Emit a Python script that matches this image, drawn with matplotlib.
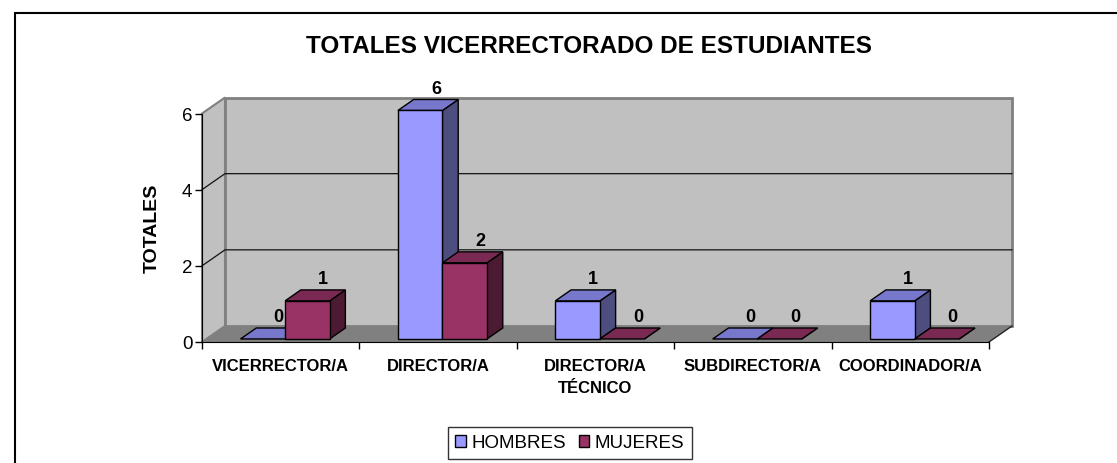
import matplotlib
matplotlib.use("Agg")
import matplotlib.pyplot as plt
from matplotlib.patches import Polygon, Patch, Rectangle

plt.rcParams["font.family"] = ["Liberation Sans", "DejaVu Sans"]

categorias = ["VICERRECTOR/A", "DIRECTOR/A", "DIRECTOR/A\nTÉCNICO",
              "SUBDIRECTOR/A", "COORDINADOR/A"]
hombres = [0, 6, 1, 0, 1]
mujeres = [1, 2, 0, 0, 0]
series = ["HOMBRES", "MUJERES"]

# front / top / side shades of each series (Excel 3-D look)
COLORES = {
    "HOMBRES": ("#9999FF", "#7777CC", "#4D4D80"),
    "MUJERES": ("#993366", "#7A2952", "#4D1A33"),
}
PARED = "#C0C0C0"
SUELO = "#808080"

W, H = 1117, 464
fig = plt.figure(figsize=(W / 100, H / 100), dpi=100)
# front plane of the 3-D box, in pixels: x 202..989, value 0 at y=343, 6 at y=114.5
ax = fig.add_axes([202 / W, (H - 343) / H, 787 / W, 228.5 / H])
n = len(categorias)
ax.set_xlim(0, n)
ax.set_ylim(0, 6)
ax.set_facecolor("none")

# depth offset of the back wall (23 px right, 16 px up) in data units
p0 = ax.transData.transform((0, 0))
p1 = ax.transData.transform((1, 1))
DX = 23 / (p1[0] - p0[0])
DY = 16 / (p1[1] - p0[1])


def P(x, y, z=0.0):
    return (x + z * DX, y + z * DY)


def poly(pts, **kw):
    ax.add_patch(Polygon(pts, closed=True, clip_on=False, **kw))


# walls and floor
poly([P(0, 0), P(0, 6), P(0, 6, 1), P(0, 0, 1)], facecolor=PARED,
     edgecolor="#808080", lw=1.5, zorder=1)
poly([P(0, 0, 1), P(n, 0, 1), P(n, 6, 1), P(0, 6, 1)], facecolor=PARED,
     edgecolor="#808080", lw=2, zorder=1)
for v in (2, 4):
    ax.plot(*zip(P(0, v), P(0, v, 1), P(n, v, 1)), color="#111111", lw=0.9,
            clip_on=False, zorder=2)
poly([P(0, 0), P(n, 0), P(n, 0, 1), P(0, 0, 1)], facecolor=SUELO,
     edgecolor="none", zorder=2)
ax.plot(*zip(P(n, 0), P(n, 0, 1)), color="#222222", lw=1, clip_on=False, zorder=2)

# 3-D bars
z0, z1 = 0.19, 0.875
bw = 0.283
for i in range(n):
    c = i + 0.5
    for k, (nombre, vals) in enumerate(zip(series, (hombres, mujeres))):
        v = vals[i]
        xl = c - bw + k * bw
        xr = xl + bw
        frente, techo, lado = COLORES[nombre]
        kw = dict(edgecolor="black", lw=1, zorder=3 + i * 2 + k)
        poly([P(xr, 0, z0), P(xr, 0, z1), P(xr, v, z1), P(xr, v, z0)],
             facecolor=lado, **kw)
        poly([P(xl, v, z0), P(xr, v, z0), P(xr, v, z1), P(xl, v, z1)],
             facecolor=techo, **kw)
        if v > 0:
            poly([P(xl, 0, z0), P(xr, 0, z0), P(xr, v, z0), P(xl, v, z0)],
                 facecolor=frente, **kw)
        ax.annotate(str(v), xy=P((xl + xr) / 2, v, z1), xytext=(0, 2),
                    textcoords="offset points", ha="center", va="bottom",
                    fontsize=13, fontweight="bold", annotation_clip=False,
                    zorder=20)

# axes lines and ticks
for s in ("top", "right"):
    ax.spines[s].set_visible(False)
ax.spines["left"].set_zorder(2)
ax.spines["bottom"].set_zorder(2)
ax.set_yticks([0, 2, 4, 6])
ax.tick_params(axis="y", length=5, width=1, labelsize=13.5, pad=2)
ax.set_xticks(range(n + 1), labels=[""] * (n + 1))
ax.set_xticks([i + 0.5 for i in range(n)], labels=categorias, minor=True)
ax.tick_params(axis="x", which="major", length=5, width=1)
ax.tick_params(axis="x", which="minor", length=0, pad=11.5, labelsize=12)
for t in ax.get_xticklabels(minor=True):
    t.set_fontweight("bold")
    t.set_linespacing(1.6)

fig.text(589 / W, 1 - 47 / H, "TOTALES VICERRECTORADO DE ESTUDIANTES",
         ha="center", va="center", fontsize=17.5, fontweight="bold")
fig.text(152 / W, 1 - 228 / H, "TOTALES", rotation=90, ha="center",
         va="center", fontsize=14, fontweight="bold")

handles = [Patch(facecolor=COLORES[s][0], edgecolor="black", lw=1, label=s)
           for s in series]
leg = fig.legend(handles=handles, ncol=2, loc="center",
                 bbox_to_anchor=(570 / W, 1 - 444 / H), fontsize=13.5,
                 frameon=True, fancybox=False, edgecolor="black",
                 handlelength=0.55, handleheight=0.55, handletextpad=0.3,
                 columnspacing=0.7, borderpad=0.4, borderaxespad=0.6)
leg.get_frame().set_linewidth(1)

# chart border (runs off the right and bottom edges)
fig.patches.append(Rectangle((15 / W, -0.05), 1.1, 1 - 14 / H + 0.05,
                             transform=fig.transFigure, fill=False,
                             edgecolor="black", lw=1.5))

fig.savefig("out.png", dpi=100)
